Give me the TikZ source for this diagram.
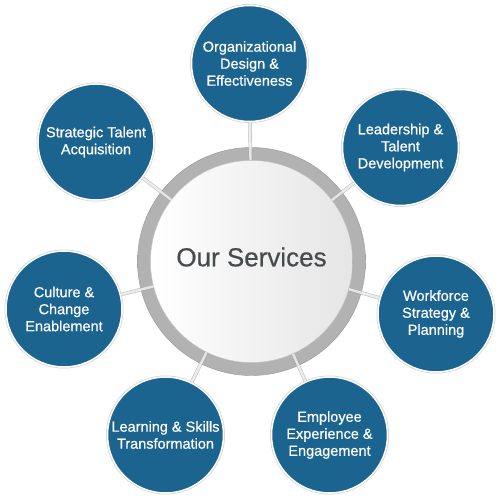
\documentclass[tikz,border=0pt]{standalone}
\usepackage{fontspec}
\setmainfont{Liberation Sans}
\newfontfamily\svcfont[FakeBold=0.6]{Liberation Sans}
\usetikzlibrary{calc}
\definecolor{svcBlue}{RGB}{28,100,144}
\definecolor{svcRingEdge}{RGB}{150,150,150}
\definecolor{svcRim}{RGB}{212,212,212}
\definecolor{svcText}{RGB}{72,75,78}
\pgfdeclareradialshading{svcRingShade}{\pgfpointorigin}{%
    color(0bp)=(black!30); color(44bp)=(black!30); color(44.6bp)=(black!45);
    color(46.3bp)=(black!28); color(48.3bp)=(black!29); color(50bp)=(black!42)}
\tikzset{
    svcBubble/.style={
        circle,
        fill=svcBlue,
        draw=white,
        line width=1.5pt,
        preaction={draw=svcRim, line width=3pt},
        minimum size=116pt,
        inner sep=0pt,
        text=white,
        align=center,
        font=\svcfont\fontsize{14.5}{17}\selectfont
    },
    svcHub/.style={circle, shading=svcRingShade, minimum size=228pt, inner sep=0pt},
    svcCore/.style={circle, left color=white, right color=black!10, draw=black!22, line width=0.4pt, minimum size=202pt, inner sep=0pt},
    svcHubText/.style={text=svcText, font=\svcfont\fontsize{26}{30}\selectfont},
    svcSpoke/.style={draw=black!35, double=white, double distance=2.4pt, line width=0.6pt, opacity=0.7}
}
\begin{document}
\begin{tikzpicture}[x=1pt, y=-1pt]
\useasboundingbox (0,0) rectangle (500,500);
% Hub
\node[svcHub] (hub) at (251.5,261.5) {};
\draw[svcRingEdge, line width=0.4pt] (hub.center) circle (114pt);
\node[svcCore] (core) at (hub.center) {};
\node[svcHubText] (hubText) at (251.5,257) {Our Services};

% Services
\node[svcBubble] (org)   at (249.5,63.5) {Organizational\\Design \&\\Effectiveness};
\node[svcBubble] (lead)  at (400.5,147.5) {Leadership \&\\Talent\\Development};
\node[svcBubble] (work)  at (436,314) {Workforce\\Strategy \&\\Planning};
\node[svcBubble] (emp)   at (329.5,435) {Employee\\Experience \&\\Engagement};
\node[svcBubble] (learn) at (165.5,435) {Learning \& Skills\\Transformation};
\node[svcBubble] (cult)  at (64,309) {Culture \&\\Change\\Enablement};
\node[svcBubble] (acq)   at (96,142) {Strategic Talent\\Acquisition};

% Spokes
\foreach \s in {org,lead,work,emp,learn,cult,acq}
    \draw[svcSpoke] (core) -- (\s);
\end{tikzpicture}
\end{document}
